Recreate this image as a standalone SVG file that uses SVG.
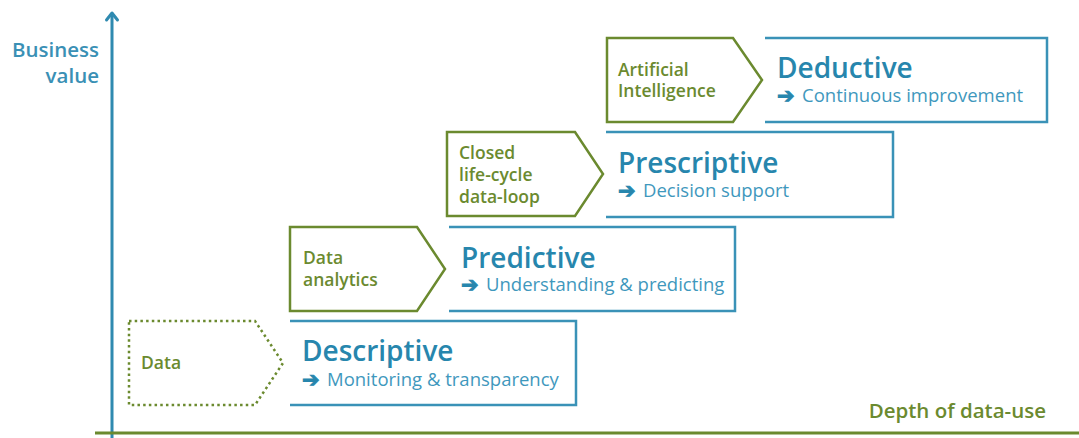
<svg xmlns="http://www.w3.org/2000/svg" width="1079" height="438" viewBox="0 0 1079 438">
<style>
text{font-family:"Open Sans","DejaVu Sans",sans-serif}
.box{fill:none;stroke:#3a92b7;stroke-width:2.5}
.pent{fill:#fff;stroke:#6b8a2f;stroke-width:2.5;stroke-linejoin:miter}
.dot{fill:#fff;stroke:#6b8a2f;stroke-width:2.5;stroke-dasharray:2.5 3.2}
.lbl{fill:#6b8a2f;font-size:17.5px;font-weight:600}
.ttl{fill:#2786ad;font-size:28px;font-weight:600}
.sub{fill:#3f98bd;font-size:18.5px}
.arr{fill:#2786ad;stroke:#2786ad;stroke-width:0.9;font-size:21px;font-weight:bold;font-family:"DejaVu Sans",sans-serif}
.axl{font-size:20.5px;font-weight:600}
</style>
<g id="axes">
<line x1="112" y1="438" x2="112" y2="14" stroke="#2f8ab0" stroke-width="3"/>
<polyline points="106.5,20 112,13 117.5,20" fill="none" stroke="#2f8ab0" stroke-width="3" stroke-linecap="round" stroke-linejoin="round"/>
<line x1="95" y1="433" x2="1079" y2="433" stroke="#6b8a2f" stroke-width="3"/>
<text class="axl" x="99" y="57" text-anchor="end" fill="#3a90b5">Business</text>
<text class="axl" x="99" y="83" text-anchor="end" fill="#3a90b5">value</text>
<text class="axl" x="1046" y="418" text-anchor="end" fill="#6b8a2f">Depth of data-use</text>
</g>
<g id="data">
<polygon class="dot" points="129,321 255,321 283,363 255,405 129,405"/>
<text class="lbl" x="141" y="369">Data</text>
</g>
<g id="descriptive">
<polyline class="box" points="290,321 576,321 576,405 290,405"/>
<text class="ttl" x="302" y="361">Descriptive</text>
<text class="arr" x="302" y="387">➔</text>
<text class="sub" x="327" y="386">Monitoring &amp; transparency</text>
</g>
<g id="data-analytics">
<polygon class="pent" points="290,227 417,227 445,269 417,311 290,311"/>
<text class="lbl" x="303" y="264">Data</text>
<text class="lbl" x="303" y="286">analytics</text>
</g>
<g id="predictive">
<polyline class="box" points="449,227 735,227 735,311 449,311"/>
<text class="ttl" x="461" y="268">Predictive</text>
<text class="arr" x="461" y="292">➔</text>
<text class="sub" x="486" y="291">Understanding &amp; predicting</text>
</g>
<g id="closed-loop">
<polygon class="pent" points="447,132 575,132 603,174 575,216 447,216"/>
<text class="lbl" x="459" y="159">Closed</text>
<text class="lbl" x="459" y="181">life-cycle</text>
<text class="lbl" x="459" y="203">data-loop</text>
</g>
<g id="prescriptive">
<polyline class="box" points="606,132 893,132 893,217 606,217"/>
<text class="ttl" x="618" y="173">Prescriptive</text>
<text class="arr" x="618" y="198">➔</text>
<text class="sub" x="643" y="197">Decision support</text>
</g>
<g id="ai">
<polygon class="pent" points="607,38 733,38 762,80 733,122 607,122"/>
<text class="lbl" x="618" y="76">Artificial</text>
<text class="lbl" x="618" y="97">Intelligence</text>
</g>
<g id="deductive">
<polyline class="box" points="765,38 1047,38 1047,122 765,122"/>
<text class="ttl" x="777" y="78">Deductive</text>
<text class="arr" x="777" y="103">➔</text>
<text class="sub" x="802" y="102">Continuous improvement</text>
</g>
</svg>
